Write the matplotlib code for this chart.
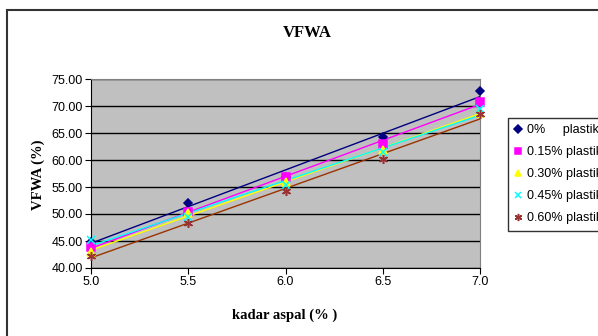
import numpy as np
import matplotlib.pyplot as plt
import matplotlib.patches as patches

# data
kadar_aspal = [5.0, 5.5, 6.0, 6.5, 7.0]
labels = ['0%     plastik', '0.15% plastik', '0.30% plastik', '0.45% plastik', '0.60% plastik']
vfwa_0 = [44.9, 52.0, 56.9, 64.3, 72.7]
vfwa_015 = [43.8, 50.4, 56.9, 63.0, 70.8]
vfwa_030 = [43.0, 50.1, 56.0, 61.9, 68.7]
vfwa_045 = [45.2, 49.5, 55.4, 61.5, 69.4]
vfwa_060 = [42.3, 48.4, 54.3, 60.1, 68.6]
series = [vfwa_0, vfwa_015, vfwa_030, vfwa_045, vfwa_060]

marker_colors = ['#000080', '#FF00FF', '#FFFF00', '#00FFFF', '#993333']
line_colors = ['#000080', '#FF00FF', '#FFFF00', '#00FFFF', '#993300']
markers = ['D', 's', '^', 'x', (6, 2, 0)]
msizes = [4.5, 5.5, 5.5, 5.5, 6.5]

fig = plt.figure(figsize=(5.98, 3.36), dpi=100)
ax = fig.add_axes([91 / 598, 1 - 268 / 336, (480 - 91) / 598, (268 - 79) / 336])
ax.set_facecolor('#C0C0C0')

x = np.array(kadar_aspal)
handles = []
for ys, mc, lc, m, ms, lab in zip(series, marker_colors, line_colors, markers, msizes, labels):
    # garis trend linier
    k, b = np.polyfit(x, ys, 1)
    xx = np.array([5.0, 7.0])
    ax.plot(xx, k * xx + b, color=lc, lw=1.0, zorder=2)
    h, = ax.plot(x, ys, linestyle='none', marker=m, color=mc, markersize=ms,
                 markeredgewidth=1.1, label=lab, zorder=3, clip_on=False)
    handles.append(h)

ax.set_xlim(5.0, 7.0)
ax.set_ylim(40, 75)
ax.set_xticks([5.0, 5.5, 6.0, 6.5, 7.0])
ax.set_xticklabels(['5.0', '5.5', '6.0', '6.5', '7.0'])
ax.set_yticks(np.arange(40, 76, 5))
ax.set_yticklabels(['%.2f' % v for v in np.arange(40, 76, 5)])
ax.yaxis.grid(True, color='black', lw=1.0)
ax.set_axisbelow(True)
ax.tick_params(labelsize=9, length=4, color='black', direction='out', pad=2)
for t in ax.get_xticklabels() + ax.get_yticklabels():
    t.set_family('Liberation Sans')
ax.spines['top'].set_color('#808080')
ax.spines['right'].set_color('#808080')
ax.spines['left'].set_color('black')
ax.spines['bottom'].set_color('black')

fig.text(307 / 598, 1 - 33 / 336, 'VFWA', ha='center', va='center',
         family='Liberation Serif', fontweight='bold', fontsize=12)
fig.text(38 / 598, 1 - 175 / 336, 'VFWA (%)', ha='center', va='center', rotation=90,
         family='Liberation Serif', fontweight='bold', fontsize=10.5)
fig.text(285 / 598, 1 - 315 / 336, 'kadar aspal (% )', ha='center', va='center',
         family='Liberation Serif', fontweight='bold', fontsize=10.5)

# legenda terpotong di tepi kanan seperti pada gambar asli
leg = fig.legend(handles=handles, loc='upper left', bbox_to_anchor=(502 / 598, 1 - 112 / 336),
                 prop={'family': 'Liberation Sans', 'size': 9}, frameon=True, fancybox=False,
                 edgecolor='black', handlelength=0.6, handletextpad=0.4, labelspacing=0.8,
                 borderpad=0.5, markerscale=0.8)
leg.get_frame().set_linewidth(1.0)

# bingkai luar
fig.add_artist(patches.Rectangle((7 / 598, -0.05), 1.1, 1 - 10 / 336 + 0.05, transform=fig.transFigure,
                                 fill=False, edgecolor='#333333', lw=1.5))

fig.savefig('out.png', dpi=100)
